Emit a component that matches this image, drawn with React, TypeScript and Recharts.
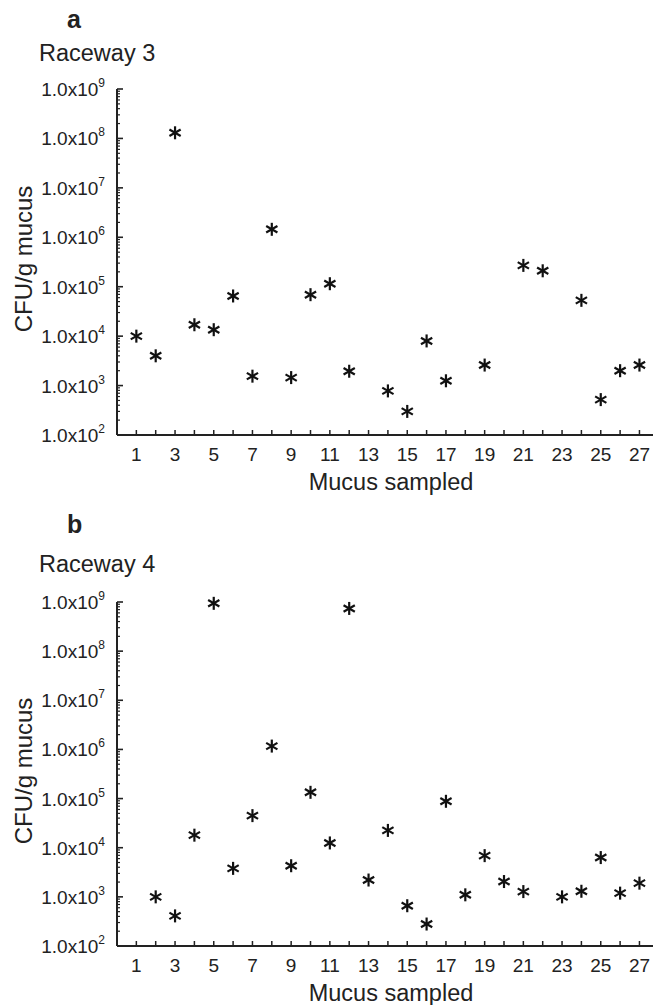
import React from 'react';
import { ScatterChart, Scatter, XAxis, YAxis } from 'recharts';

// sample numbers on the x axis
const sampleTicks = [1, 2, 3, 4, 5, 6, 7, 8, 9, 10, 11, 12, 13, 14, 15, 16, 17, 18, 19, 20, 21, 22, 23, 24, 25, 26, 27];

// decades on the log axis, plus minor steps inside each decade
const cfuMajorTicks = [1e2, 1e3, 1e4, 1e5, 1e6, 1e7, 1e8, 1e9];
const minorSteps = [2, 3, 4, 5, 6, 7, 8, 9];

// Raceway 3 (panel a)
const raceway3Samples = [1, 2, 3, 4, 5, 6, 7, 8, 9, 10, 11, 12, 14, 15, 16, 17, 19, 21, 22, 24, 25, 26, 27];
const raceway3Cfu = [1.0e4, 4.0e3, 1.3e8, 1.7e4, 1.35e4, 6.5e4, 1.55e3, 1.45e6, 1.45e3, 6.9e4, 1.15e5, 1.95e3, 7.8e2, 3.0e2, 8.0e3, 1.25e3, 2.6e3, 2.7e5, 2.1e5, 5.3e4, 5.2e2, 2.0e3, 2.6e3];

// Raceway 4 (panel b)
const raceway4Samples = [2, 3, 4, 5, 6, 7, 8, 9, 10, 11, 12, 13, 14, 15, 16, 17, 18, 19, 20, 21, 23, 24, 25, 26, 27];
const raceway4Cfu = [1.0e3, 4.1e2, 1.8e4, 9.4e8, 3.8e3, 4.5e4, 1.17e6, 4.3e3, 1.34e5, 1.25e4, 7.4e8, 2.2e3, 2.25e4, 6.6e2, 2.8e2, 8.8e4, 1.1e3, 6.9e3, 2.05e3, 1.28e3, 1.0e3, 1.3e3, 6.3e3, 1.19e3, 1.9e3];

const cfuTicks = cfuMajorTicks.flatMap((m) => (m === 1e9 ? [m] : [m, ...minorSteps.map((k) => m * k)]));

const FONT = '"Liberation Sans", Arial, Helvetica, sans-serif';
const INK = '#222';

const isDecade = (v: number) => Math.abs(Math.log10(v) - Math.round(Math.log10(v))) < 1e-6;

const CfuTick = (props: any) => {
  const { x, y, payload } = props;
  const v = payload.value;
  if (!isDecade(v)) {
    return <line x1={x} y1={y} x2={x + 3} y2={y} stroke={INK} strokeWidth={1.2} />;
  }
  const exp = Math.round(Math.log10(v));
  return (
    <g>
      <line x1={x} y1={y} x2={x + 6} y2={y} stroke={INK} strokeWidth={1.6} />
      <text x={x - 12} y={y} dy={7} textAnchor="end" fontFamily={FONT} fontSize={19} fill={INK}>
        1.0x10
        <tspan fontSize={12} dy={-9}>{exp}</tspan>
      </text>
    </g>
  );
};

const SampleTick = (props: any) => {
  const { x, y, payload } = props;
  const v = payload.value;
  return (
    <g>
      <line x1={x} y1={y} x2={x} y2={y - 5} stroke={INK} strokeWidth={1.5} />
      {v % 2 === 1 && (
        <text x={x} y={y + 26} textAnchor="middle" fontFamily={FONT} fontSize={19} fill={INK}>
          {v}
        </text>
      )}
    </g>
  );
};

const Asterisk = (props: any) => {
  const { cx, cy } = props;
  const r = 6.5;
  const dx = r * Math.cos(Math.PI / 6);
  const dy = r * Math.sin(Math.PI / 6);
  return (
    <g stroke="#111" strokeWidth={2.2} strokeLinecap="butt">
      <line x1={cx} y1={cy - r} x2={cx} y2={cy + r} />
      <line x1={cx - dx} y1={cy - dy} x2={cx + dx} y2={cy + dy} />
      <line x1={cx - dx} y1={cy + dy} x2={cx + dx} y2={cy - dy} />
    </g>
  );
};

function Panel({ letter, title, samples, values, top, height, marginTop, plotHeight, letterY, titleY }: any) {
  const data = samples.map((s: number, i: number) => ({ sample: s, cfu: values[i] }));
  const xAxisHeight = 50;
  return (
    <div style={{ position: 'absolute', left: 0, top, width: 655, height }}>
      <ScatterChart
        width={655}
        height={height}
        margin={{ top: marginTop, right: 2, left: 0, bottom: height - marginTop - plotHeight - xAxisHeight }}
      >
        <XAxis
          type="number"
          dataKey="sample"
          domain={[0, 27.7]}
          ticks={sampleTicks}
          interval={0}
          tickSize={0}
          tickMargin={0}
          tickLine={false}
          tick={<SampleTick />}
          height={xAxisHeight}
          axisLine={{ stroke: INK, strokeWidth: 2 }}
          label={(p: any) => (
            <text
              x={p.viewBox.x + p.viewBox.width / 2 + 6}
              y={p.viewBox.y + 55}
              textAnchor="middle"
              fontFamily={FONT}
              fontSize={23.5}
              fill={INK}
            >
              Mucus sampled
            </text>
          )}
        />
        <YAxis
          type="number"
          dataKey="cfu"
          scale="log"
          domain={[1e2, 1e9]}
          ticks={cfuTicks}
          interval={0}
          width={117}
          tickSize={0}
          tickMargin={0}
          tickLine={false}
          tick={<CfuTick />}
          axisLine={{ stroke: INK, strokeWidth: 2 }}
          label={(p: any) => {
            const cx = 32;
            const cy = p.viewBox.y + p.viewBox.height / 2 - 3;
            return (
              <text
                x={cx}
                y={cy}
                transform={`rotate(-90 ${cx} ${cy})`}
                textAnchor="middle"
                fontFamily={FONT}
                fontSize={24}
                fill={INK}
              >
                CFU/g mucus
              </text>
            );
          }}
        />
        <Scatter data={data} shape={(p: any) => <Asterisk {...p} />} isAnimationActive={false} />
      </ScatterChart>
      <svg width={655} height={height} style={{ position: 'absolute', left: 0, top: 0, pointerEvents: 'none' }}>
        <text x={67} y={letterY} fontFamily={FONT} fontSize={25} fontWeight="bold" fill={INK}>
          {letter}
        </text>
        <text x={39} y={titleY} fontFamily={FONT} fontSize={23.5} fill={INK}>
          {title}
        </text>
      </svg>
    </div>
  );
}

export default function App() {
  return (
    <div style={{ position: 'absolute', left: 0, top: 0, width: 655, height: 1005, overflow: 'hidden', background: '#fff' }}>
      <Panel
        letter="a"
        title="Raceway 3"
        samples={raceway3Samples}
        values={raceway3Cfu}
        top={0}
        height={500}
        marginTop={89}
        plotHeight={346}
        letterY={28}
        titleY={61}
      />
      <Panel
        letter="b"
        title="Raceway 4"
        samples={raceway4Samples}
        values={raceway4Cfu}
        top={500}
        height={505}
        marginTop={102}
        plotHeight={344}
        letterY={33}
        titleY={72}
      />
    </div>
  );
}
